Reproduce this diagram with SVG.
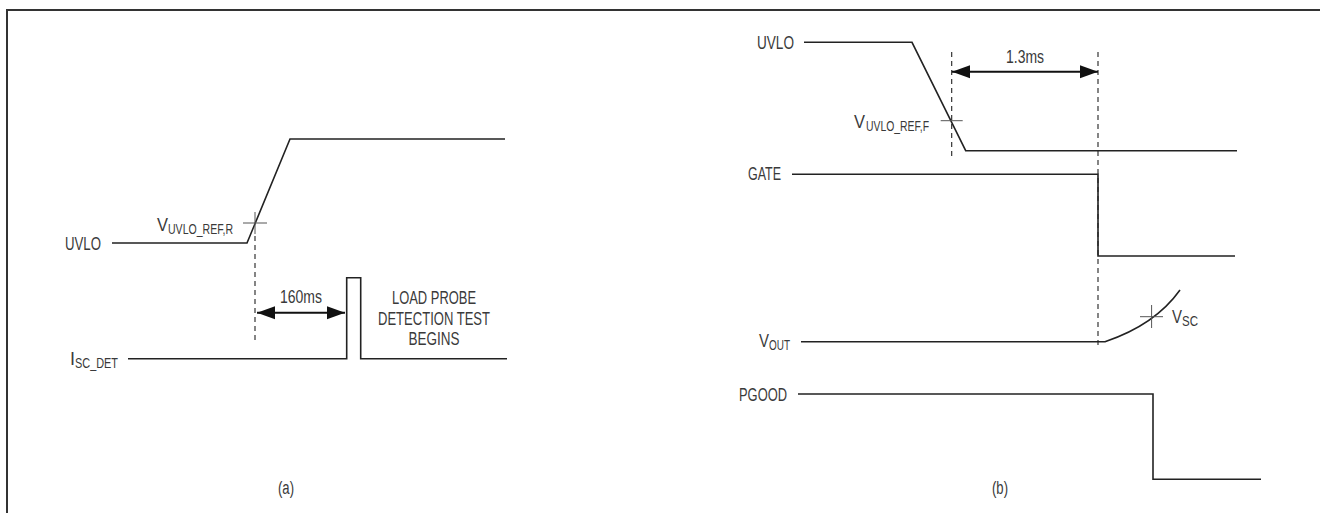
<svg xmlns="http://www.w3.org/2000/svg" width="1320" height="513" viewBox="0 0 1320 513">
<defs>
<marker id="ah" markerUnits="userSpaceOnUse" markerWidth="18" markerHeight="14" refX="18" refY="7" orient="auto-start-reverse" viewBox="0 0 18 14">
<path d="M0,0.5 L18,7 L0,13.5 z" fill="#111"/>
</marker>
</defs>
<style>
text{font-family:"Liberation Sans",Arial,sans-serif;fill:#3a3a3a;font-size:18px}
.sub{font-size:15.5px}
.sig{fill:none;stroke:#222;stroke-width:1.6}
.tick{fill:none;stroke:#555;stroke-width:1}
.dash{fill:none;stroke:#222;stroke-width:1.1;stroke-dasharray:5,4}
.dim{fill:none;stroke:#111;stroke-width:2;marker-start:url(#ah);marker-end:url(#ah)}
.frame{fill:none;stroke:#333;stroke-width:2}
</style>
<path class="frame" d="M7,513 V10 H1320"/>
<g id="connectors">
<polyline class="sig" points="112,243 247,243 290,139 505,139"/>
<path class="tick" d="M243,223 H267 M255,212 V234"/>
<path class="dash" d="M255,236 V340"/>
<path class="dim" d="M257,312.7 H345"/>
<polyline class="sig" points="128,358.7 346.7,358.7 346.7,277.7 360.7,277.7 360.7,358.7 507,358.7"/>
<polyline class="sig" points="804,42.3 912,42.3 965.7,150.7 1237,150.7"/>
<path class="dash" d="M951.7,52 V156"/>
<path class="tick" d="M940.7,120.7 H962.7"/>
<path class="dim" d="M952,71.7 H1098"/>
<path class="dash" d="M1098,52 V347"/>
<polyline class="sig" points="792,174.3 1098,174.3 1098,256 1235,256"/>
<path class="sig" d="M801,341.7 H1105 Q1155,325 1180,290"/>
<path class="tick" d="M1140,316.7 H1163 M1151.6,305 V328"/>
<polyline class="sig" points="798,394 1153,394 1153,479.3 1261,479.3"/>
</g>
<g id="a-uvlo"><text x="65" y="250" textLength="36" lengthAdjust="spacingAndGlyphs">UVLO</text></g>
<g id="a-vref"><text x="157" y="231" textLength="11" lengthAdjust="spacingAndGlyphs">V</text><text class="sub" x="168" y="234" textLength="65" lengthAdjust="spacingAndGlyphs">UVLO_REF,R</text></g>
<g id="a-160"><text x="280" y="303" textLength="42" lengthAdjust="spacingAndGlyphs">160ms</text></g>
<g id="a-load">
<text x="434" y="304" text-anchor="middle" textLength="84" lengthAdjust="spacingAndGlyphs">LOAD PROBE</text>
<text x="434" y="325" text-anchor="middle" textLength="112" lengthAdjust="spacingAndGlyphs">DETECTION TEST</text>
<text x="434" y="345" text-anchor="middle" textLength="51" lengthAdjust="spacingAndGlyphs">BEGINS</text>
</g>
<g id="a-isc"><text x="70" y="365">I</text><text class="sub" x="75" y="368" textLength="43" lengthAdjust="spacingAndGlyphs">SC_DET</text></g>
<g id="a-label"><text x="286" y="494" text-anchor="middle" font-size="16" textLength="16" lengthAdjust="spacingAndGlyphs">(a)</text></g>
<g id="b-uvlo"><text x="757" y="49" textLength="37" lengthAdjust="spacingAndGlyphs">UVLO</text></g>
<g id="b-vref"><text x="854" y="128" textLength="11" lengthAdjust="spacingAndGlyphs">V</text><text class="sub" x="866" y="131" textLength="63" lengthAdjust="spacingAndGlyphs">UVLO_REF,F</text></g>
<g id="b-13"><text x="1006" y="63" textLength="38" lengthAdjust="spacingAndGlyphs">1.3ms</text></g>
<g id="b-gate"><text x="748" y="180" textLength="33" lengthAdjust="spacingAndGlyphs">GATE</text></g>
<g id="b-vout"><text x="759" y="347" textLength="10" lengthAdjust="spacingAndGlyphs">V</text><text class="sub" x="769" y="350" textLength="21" lengthAdjust="spacingAndGlyphs">OUT</text></g>
<g id="b-vsc"><text x="1172" y="323" textLength="10" lengthAdjust="spacingAndGlyphs">V</text><text class="sub" x="1182" y="326" textLength="16" lengthAdjust="spacingAndGlyphs">SC</text></g>
<g id="b-pgood"><text x="739" y="401" textLength="48" lengthAdjust="spacingAndGlyphs">PGOOD</text></g>
<g id="b-label"><text x="1000" y="494" text-anchor="middle" font-size="16" textLength="16" lengthAdjust="spacingAndGlyphs">(b)</text></g>
</svg>
